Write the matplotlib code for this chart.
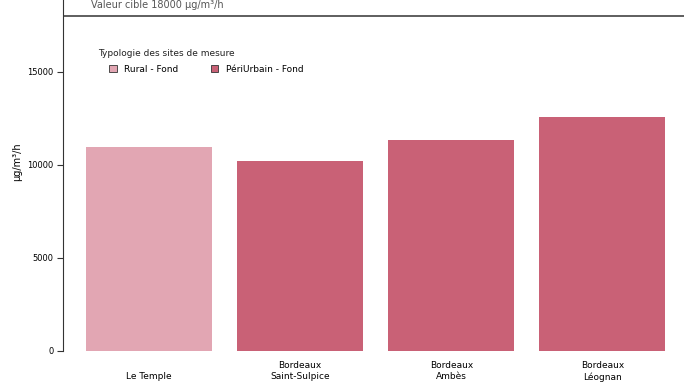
import matplotlib
matplotlib.use("Agg")
import matplotlib.pyplot as plt
from matplotlib.patches import Patch

categories = ["\nLe Temple", "Bordeaux\nSaint-Sulpice", "Bordeaux\nAmbès", "Bordeaux\nLéognan"]
values = [10950, 10200, 11330, 12570]
typologies = ["Rural - Fond", "PériUrbain - Fond", "PériUrbain - Fond", "PériUrbain - Fond"]
legend_labels = ["Rural - Fond", "PériUrbain - Fond"]
legend_title = "Typologie des sites de mesure"
target_value = 18000
target_label = "Valeur cible 18000 µg/m³/h"
yticks = [0, 5000, 10000, 15000]

colors = {"Rural - Fond": "#E2A6B3", "PériUrbain - Fond": "#C96176"}

W, H = 684, 383
fig = plt.figure(figsize=(6.84, 3.83), dpi=100)
ax = fig.add_axes([63/W, 1-351/H, 1-63/W, 351/H])

x = list(range(len(categories)))
ax.bar(x, values, width=0.835, color=[colors[t] for t in typologies])

ax.axhline(target_value, color="#333333", lw=1.1)
ax.text(-0.385, target_value + 330, target_label, fontsize=7, color="#555555",
        va="bottom", ha="left")

ax.set_xlim(-0.57, 3.54)
ax.set_ylim(0, 18850)
ax.set_yticks(yticks)
ax.set_yticklabels([str(v) for v in yticks], fontsize=6)
ax.set_xticks(x)
ax.set_xticklabels(categories, fontsize=6.5, linespacing=1.35)
ax.tick_params(axis="x", length=0, pad=7)
ax.tick_params(axis="y", length=4, width=0.8, color="#333333", pad=3)

for s in ["top", "right", "bottom"]:
    ax.spines[s].set_visible(False)
ax.spines["left"].set_color("#333333")
ax.spines["left"].set_linewidth(0.8)

fig.text(17/W, 1-162/H, "µg/m³/h", fontsize=7, rotation=90, ha="center", va="center")

fig.text(98/W, 1-53/H, legend_title, fontsize=6.5, ha="left", va="center", color="#222222")
handles = [Patch(facecolor=colors[l], edgecolor="#333333", linewidth=0.6) for l in legend_labels]
leg = ax.legend(handles, legend_labels, ncol=2,
                frameon=False, fontsize=6.5,
                loc="center left", bbox_to_anchor=(109/W, 1-69/H),
                bbox_transform=fig.transFigure,
                handlelength=0.85, handleheight=0.85, handletextpad=0.8,
                columnspacing=3.6, borderaxespad=0, borderpad=0)

fig.savefig("out.png", dpi=100)
